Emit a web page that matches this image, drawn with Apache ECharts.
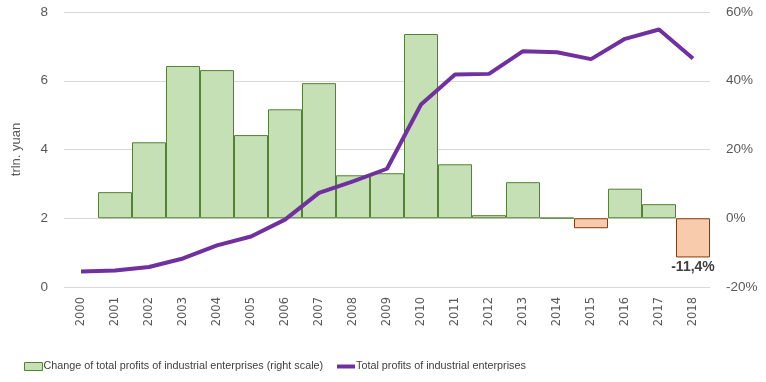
<!DOCTYPE html>
<html><head><meta charset="utf-8">
<script src="https://cdn.jsdelivr.net/npm/echarts@6/dist/echarts.min.js"></script>
<style>html,body{margin:0;padding:0;background:#fff}#c{width:766px;height:382px}</style>
</head><body><div id="c"></div>
<script>
const years = ['2000','2001','2002','2003','2004','2005','2006','2007','2008','2009','2010','2011','2012','2013','2014','2015','2016','2017','2018'];
const changePct = [null,7.6,22.1,44.3,43.1,24.2,31.7,39.3,12.5,13.1,53.6,15.7,0.9,10.5,0.1,-2.9,8.6,4.1,-11.4];
const totalProfits = [0.45,0.48,0.58,0.83,1.21,1.47,1.96,2.74,3.07,3.44,5.31,6.18,6.2,6.86,6.83,6.63,7.22,7.49,6.65];
const leftTicks = [0,8,2];
const rightTicks = [-20,60,20];
const barName = 'Change of total profits of industrial enterprises (right scale)';
const lineName = 'Total profits of industrial enterprises';

const font = 'Liberation Sans';
const chart = echarts.init(document.getElementById('c'));
chart.setOption({
  animation:false,
  textStyle:{fontFamily:font},
  grid:{left:64,right:56,top:12,bottom:95},
  legend:[{
    left:19, top:356, itemWidth:18, itemHeight:8,
    textStyle:{fontFamily:font,fontSize:10.8,color:'#404040',padding:[0,0,0,-4]},
    data:[{name:barName,icon:'rect',itemStyle:{color:'#C5E0B4',borderColor:'#548235',borderWidth:1}}]
  },{
    left:332, top:356, itemWidth:18, itemHeight:4,
    textStyle:{fontFamily:font,fontSize:10.8,color:'#404040',padding:[0,0,0,-4]},
    data:[{name:lineName,icon:'rect',itemStyle:{color:'#7030A0',borderWidth:0}}]
  }],
  xAxis:{
    type:'category', data:years,
    axisLine:{show:false}, axisTick:{show:false},
    axisLabel:{rotate:90,fontFamily:'DejaVu Sans',fontSize:11.5,color:'#595959',margin:10}
  },
  yAxis:[
    {type:'value',min:leftTicks[0],max:leftTicks[1],interval:leftTicks[2],
     name:'trln. yuan',nameLocation:'middle',nameGap:41,nameRotate:90,
     nameTextStyle:{fontFamily:font,fontSize:13,color:'#595959'},
     axisLabel:{fontFamily:font,fontSize:13.5,color:'#595959',margin:16},
     splitLine:{lineStyle:{color:'#d9d9d9',width:1}},axisLine:{show:false},axisTick:{show:false}},
    {type:'value',min:rightTicks[0],max:rightTicks[1],interval:rightTicks[2],
     axisLabel:{fontFamily:font,fontSize:13.5,color:'#595959',margin:16,formatter:'{value}%'},
     splitLine:{show:false},axisLine:{show:false},axisTick:{show:false}}
  ],
  series:[
    {name:barName,type:'bar',yAxisIndex:1,
     barCategoryGap:'0%',
     itemStyle:{color:'#C5E0B4',borderColor:'#548235',borderWidth:1},
     data:changePct.map((v,i)=>{
       if(v===null) return null;
       const neg = v<0;
       const o = {value:v,itemStyle:neg?{color:'#F8CBAD',borderColor:'#843C0C',borderWidth:1}:{color:'#C5E0B4',borderColor:'#548235',borderWidth:1}};
       if(i===changePct.length-1){
         o.label={show:true,position:'bottom',distance:3,formatter:p=>String(p.value).replace('.',',')+'%',fontFamily:font,fontSize:14,fontWeight:'bold',color:'#404040'};
       }
       return o;
     })
    },
    {name:lineName,type:'line',yAxisIndex:0,
     symbol:'none',lineStyle:{color:'#7030A0',width:4},itemStyle:{color:'#7030A0'},
     data:totalProfits}
  ]
});
</script></body></html>
